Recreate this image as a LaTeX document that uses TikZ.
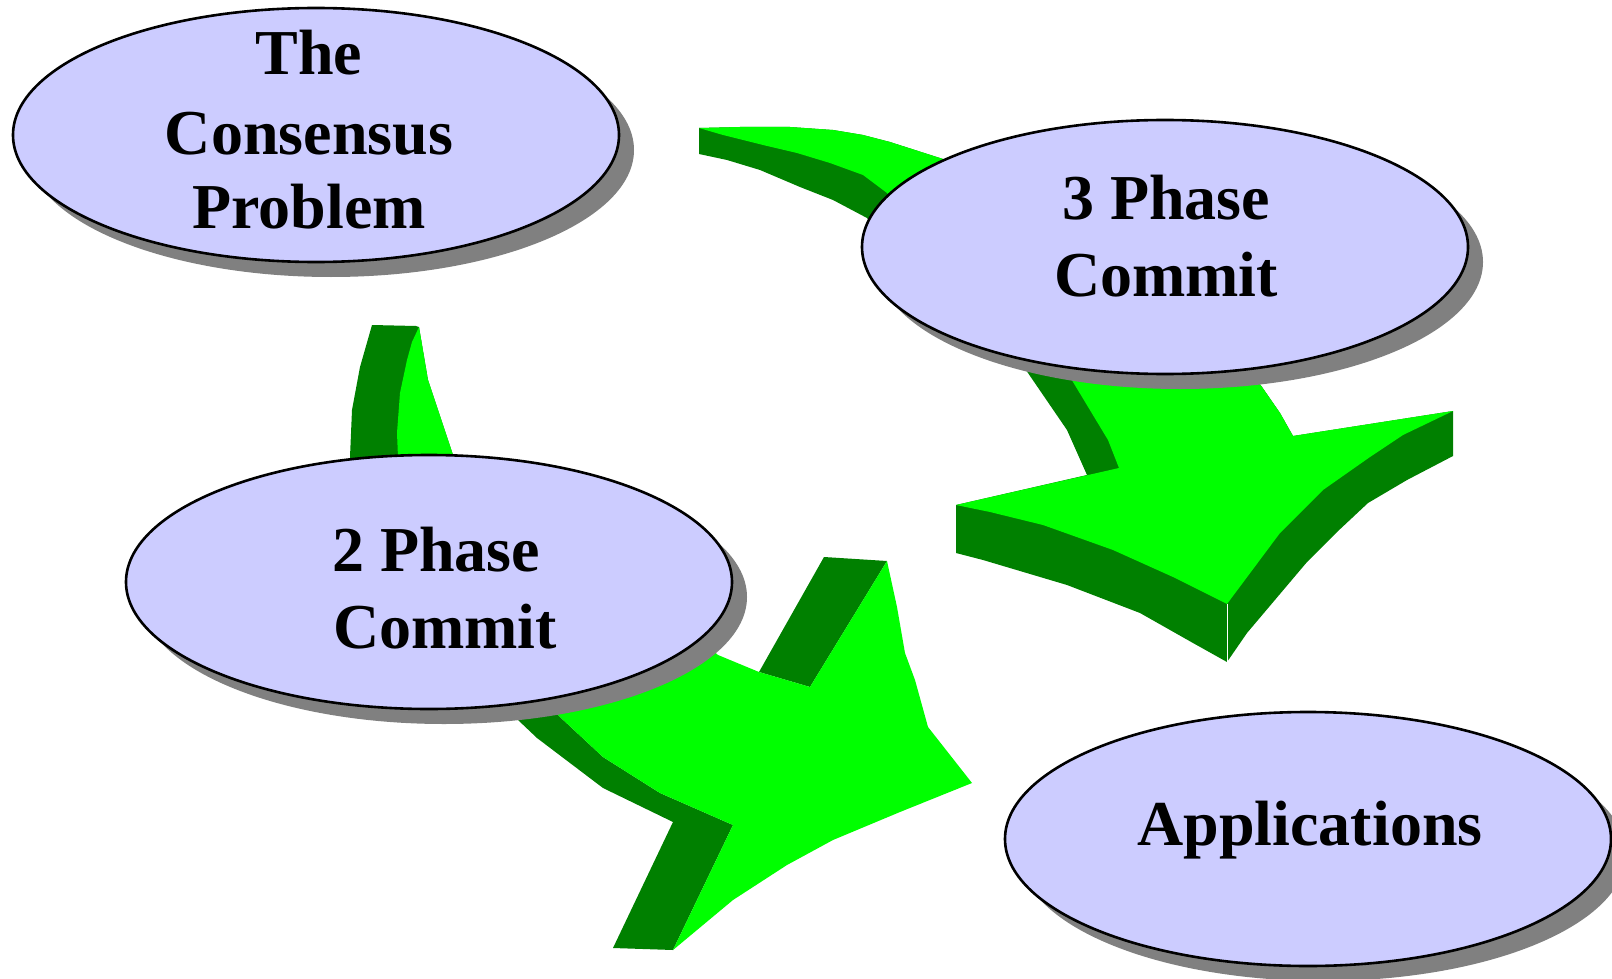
\documentclass[tikz,border=0pt]{standalone}
\usepackage{fontspec}
\setmainfont{Liberation Serif}
\usetikzlibrary{shapes.geometric,shadows}
\definecolor{lightgr}{HTML}{00FF00}
\definecolor{darkgr}{HTML}{008000}
\definecolor{lav}{HTML}{CCCCFF}
\definecolor{shadowgray}{HTML}{808080}
\tikzset{
  ell/.style={ellipse, draw=black, line width=2.6pt, fill=lav, minimum width=606pt, minimum height=254pt, inner sep=0pt,
    drop shadow={shadow xshift=15pt, shadow yshift=-15pt, fill=shadowgray, opacity=1}},
  txt/.style={anchor=base, inner sep=0pt, font=\fontsize{64pt}{77pt}\selectfont\bfseries, text=black},
  lightface/.style={fill=lightgr, draw=none},
  darkface/.style={fill=darkgr, draw=none},
}
\begin{document}
\begin{tikzpicture}[x=1pt,y=-1pt]
\useasboundingbox (0,0) rectangle (1612,979);
\clip (0,0) rectangle (1612,979);
% Arrow A: top, from tail left of 3PC, under it, head pointing down
\fill[darkface] (699,128) -- (699,154) -- (727,160) -- (760,170) -- (800,187) -- (833,200) -- (867,218) -- (880,235) -- (1020,362) -- (1028,373) -- (1067,430) -- (1087,475) -- (956,505) -- (956,553) -- (983,560) -- (1067,585) -- (1140,613) -- (1193,643) -- (1227,662) -- (1247,633) -- (1307,562) -- (1337,532) -- (1368,503) -- (1407,480) -- (1453,456) -- (1453,411) -- (1293,436) -- (1280,413) -- (1262,387) -- (1255,378) -- (1150,300) -- (943,159) -- (890,142) -- (863,135) -- (833,130) -- (790,127) -- (740,127) -- cycle;
\fill[lightface] (699,128) -- (740,127) -- (790,127) -- (833,130) -- (863,135) -- (890,142) -- (943,159) -- (1150,300) -- (1255,378) -- (1262,387) -- (1280,413) -- (1293,436) -- (1453,411) -- (1403,435) -- (1370,457) -- (1323,490) -- (1280,533) -- (1227,604) -- (1173,577) -- (1113,550) -- (1043,525) -- (990,512) -- (956,505) -- (1119,468) -- (1108,440) -- (1073,382) -- (1065,370) -- (900,215) -- (887,193) -- (863,175) -- (830,163) -- (797,153) -- (763,145) -- (723,135) -- cycle;
\draw[white, line width=0.8pt] (1227,604) -- (1227,662);
% Arrow B: from below Consensus, under 2PC, head pointing right
\fill[darkface] (372,325) -- (416,326) -- (419,327) -- (428,380) -- (437,407) -- (453,455) -- (460,475) -- (540,690) -- (548,705) -- (560,717) -- (603,757) -- (660,793) -- (733,825) -- (673,950) -- (613,948) -- (673,822) -- (603,788) -- (537,738) -- (518,720) -- (505,700) -- (352,470) -- (350,457) -- (352,410) -- (360,367) -- cycle;
\fill[darkface] (824,557) -- (887,561) -- (810,687) -- (759,672) -- cycle;
\fill[lightface] (419,327) -- (428,380) -- (437,407) -- (453,455) -- (460,475) -- (700,640) -- (718,655) -- (759,672) -- (810,687) -- (887,561) -- (897,607) -- (905,653) -- (915,680) -- (928,727) -- (972,783) -- (900,812) -- (833,840) -- (787,865) -- (733,900) -- (673,950) -- (733,825) -- (660,793) -- (603,757) -- (560,717) -- (548,705) -- (399,475) -- (398,457) -- (397,433) -- (400,393) -- (407,360) -- (412,342) -- cycle;
% Ellipses
\node[ell] (cons) at (316,135) {};
\node[ell] (three) at (1165,247) {};
\node[ell] (two) at (429,582) {};
\node[ell] (app) at (1308,839) {};
% Texts
\node[txt] (consA) at (309,75) {The};
\node[txt] (consB) at (309,154) {Consensus};
\node[txt] (consC) at (309,228) {Problem};
\node[txt] (threeA) at (1166,219) {3 Phase};
\node[txt] (threeB) at (1166,296) {Commit};
\node[txt] (twoA) at (436,571) {2 Phase};
\node[txt] (twoB) at (445,648) {Commit};
\node[txt] (appA) at (1310,845) {Applications};
\end{tikzpicture}
\end{document}
